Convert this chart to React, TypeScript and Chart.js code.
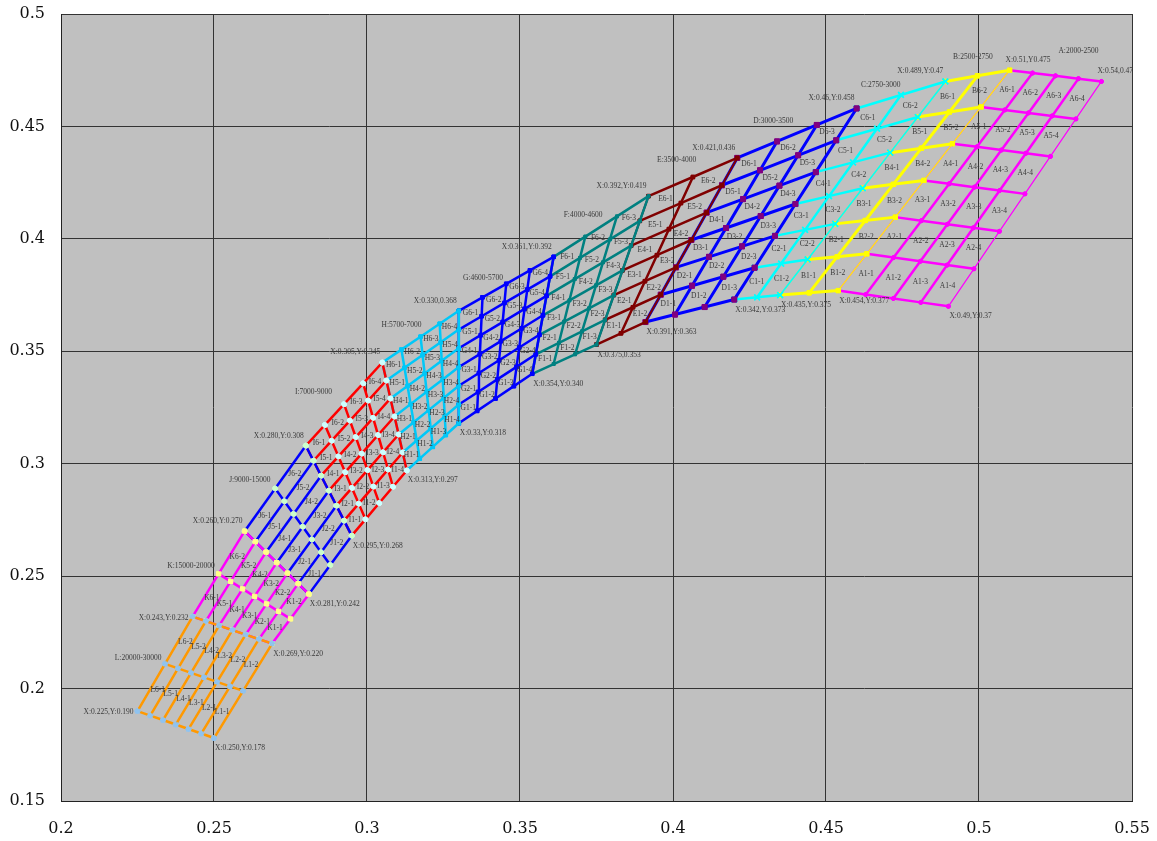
import React, { useEffect, useRef } from "react";
import { Chart, registerables } from "chart.js";

Chart.register(...registerables);

// ---------------- data ----------------
// Bins, ordered from the high-CCT end (L) to the low-CCT end (A)
const BIN_NAMES = ["L", "K", "J", "I", "H", "G", "F", "E", "D", "C", "B", "A"];
const BIN_RANGES = [
  "20000-30000", "15000-20000", "9000-15000", "7000-9000", "5700-7000", "4600-5700",
  "4000-4600", "3500-4000", "3000-3500", "2750-3000", "2500-2750", "2000-2500",
];
// sub-bin divisions along the band (per bin) and across the band (all bins)
const LENGTH_STEPS = [2, 2, 2, 4, 4, 4, 3, 2, 3, 2, 2, 4];
const WIDTH_STEPS = 6;

// Bin boundary corners: upper-left edge of the band and lower-right edge of the band
const UPPER_X = [0.225, 0.243, 0.26, 0.28, 0.305, 0.33, 0.361, 0.392, 0.421, 0.46, 0.489, 0.51, 0.54];
const UPPER_Y = [0.19, 0.232, 0.27, 0.308, 0.345, 0.368, 0.392, 0.419, 0.436, 0.458, 0.47, 0.475, 0.47];
const LOWER_X = [0.25, 0.269, 0.281, 0.295, 0.313, 0.33, 0.354, 0.375, 0.391, 0.42, 0.435, 0.454, 0.49];
const LOWER_Y = [0.178, 0.22, 0.242, 0.268, 0.297, 0.318, 0.34, 0.353, 0.363, 0.373, 0.375, 0.377, 0.37];

// Corner annotation texts (as printed on the chart)
const UPPER_TEXT = [
  "X:0.225,Y:0.190", "X:0.243,Y:0.232", "X:0.260,Y:0.270", "X:0.280,Y:0.308", "X:0.305,Y:0.345",
  "X:0.330,0.368", "X:0.361,Y:0.392", "X:0.392,Y:0.419", "X:0.421,0.436", "X:0.46,Y:0.458",
  "X:0.489,Y:0.47", "X:0.51,Y0.475", "X:0.54,0.47",
];
const LOWER_TEXT = [
  "X:0.250,Y:0.178", "X:0.269,Y:0.220", "X:0.281,Y:0.242", "X:0.295,Y:0.268", "X:0.313,Y:0.297",
  "X:0.33,Y:0.318", "X:0.354,Y:0.340", "X:0.375,0.353", "X:0.391,Y:0.363", "X:0.342,Y:0.373",
  "X:0.435,Y:0.375", "X:0.454,Y:0.377", "X:0.49,Y:0.37",
];

// Bin title anchor positions (data coordinates)
const TITLE_X = [0.2252, 0.2425, 0.2617, 0.2825, 0.3113, 0.3379, 0.3706, 0.4012, 0.4328, 0.4679, 0.498, 0.5325];
const TITLE_Y = [0.2137, 0.2545, 0.2928, 0.3318, 0.3617, 0.3827, 0.4106, 0.4351, 0.4525, 0.4684, 0.4807, 0.4835];

// ---------------- styles ----------------
const LINE_COLORS = ["#FF9900", "#FF00FF", "#0000FF", "#FF0000", "#00C8F8", "#0000FF", "#008080", "#800000", "#0000FF", "#00FFFF", "#FFFF00", "#FF00FF"];
const MARKER_COLORS = ["#8FC3F0", "#FFFF88", "#CCFFCC", "#CCFFFF", "#00C8F8", "#0000FF", "#008080", "#800000", "#800080", "#00FFFF", "#FFFF00", "#FF00FF"];
const MARKER_STYLES = ["star", "rect", "circle", "circle", "rect", "rect", "rect", "rect", "rect", "crossRot", "rect", "circle"];
const MARKER_RADII = [3, 3, 2.5, 2.5, 2.5, 2.5, 2, 2.5, 3.5, 4, 3, 2];
const LINE_WIDTHS = [2.5, 2.5, 2.5, 2.5, 2.5, 2.5, 2.5, 2.5, 3, 2.5, 3, 2.5];
const EDGE_WIDTHS = [2.5, 2.5, 2.5, 2.5, 2.5, 2.5, 2.5, 2, 3, 1.5, 1.2, 1.2];

// sub-bin mesh node of bin k: w across the band (0 = lower edge), m along the band
function node(k: number, w: number, m: number) {
  const t = w / WIDTH_STEPS;
  const s = m / LENGTH_STEPS[k];
  const ax = LOWER_X[k] + (UPPER_X[k] - LOWER_X[k]) * t;
  const ay = LOWER_Y[k] + (UPPER_Y[k] - LOWER_Y[k]) * t;
  const bx = LOWER_X[k + 1] + (UPPER_X[k + 1] - LOWER_X[k + 1]) * t;
  const by = LOWER_Y[k + 1] + (UPPER_Y[k + 1] - LOWER_Y[k + 1]) * t;
  return { x: ax + (bx - ax) * s, y: ay + (by - ay) * s };
}

const LABEL_FONT = '7.5px "Liberation Serif"';
const LABEL_COLOR = "#3a3a3a";

const backgroundPlugin = {
  id: "plotBackground",
  beforeDraw(chart: any) {
    const { ctx, chartArea } = chart;
    ctx.save();
    ctx.fillStyle = "#ffffff";
    ctx.fillRect(0, 0, chart.width, chart.height);
    ctx.fillStyle = "#C0C0C0";
    ctx.fillRect(chartArea.left, chartArea.top, chartArea.right - chartArea.left, chartArea.bottom - chartArea.top);
    ctx.restore();
  },
};

const labelPlugin = {
  id: "binLabels",
  afterDatasetsDraw(chart: any) {
    const { ctx } = chart;
    const xs = chart.scales.x;
    const ys = chart.scales.y;
    const px = (v: number) => xs.getPixelForValue(v);
    const py = (v: number) => ys.getPixelForValue(v);
    ctx.save();
    ctx.font = LABEL_FONT;
    ctx.fillStyle = LABEL_COLOR;
    ctx.textBaseline = "middle";

    // sub-bin names at cell centres
    ctx.textAlign = "center";
    BIN_NAMES.forEach((name, k) => {
      for (let w = 1; w <= WIDTH_STEPS; w++) {
        for (let m = 1; m <= LENGTH_STEPS[k]; m++) {
          const pts = [node(k, w - 1, m - 1), node(k, w, m - 1), node(k, w - 1, m), node(k, w, m)];
          const cx = pts.reduce((a, p) => a + p.x, 0) / 4;
          const cy = pts.reduce((a, p) => a + p.y, 0) / 4;
          ctx.fillText(`${name}${w}-${m}`, px(cx), py(cy));
        }
      }
      // bin titles
      ctx.fillText(`${name}:${BIN_RANGES[k]}`, px(TITLE_X[k]), py(TITLE_Y[k]));
    });

    // corner coordinates
    UPPER_TEXT.forEach((txt, k) => {
      const x = px(UPPER_X[k]);
      const y = py(UPPER_Y[k]);
      if (k <= 1) {
        ctx.textAlign = "right";
        ctx.fillText(txt, x - 4, y + 1);
      } else if (k <= 10) {
        ctx.textAlign = "right";
        ctx.fillText(txt, x - 2, y - 10);
      } else {
        ctx.textAlign = "left";
        ctx.fillText(txt, x - 4, y - 10);
      }
    });
    ctx.textAlign = "left";
    LOWER_TEXT.forEach((txt, k) => {
      ctx.fillText(txt, px(LOWER_X[k]) + 1, py(LOWER_Y[k]) + 10);
    });
    ctx.restore();
  },
};

function buildDatasets() {
  const sets: any[] = [];
  BIN_NAMES.forEach((_, k) => {
    const M = LENGTH_STEPS[k];
    const common = {
      showLine: true,
      fill: false,
      tension: 0,
      borderColor: LINE_COLORS[k],
      pointBackgroundColor: MARKER_COLORS[k],
      pointBorderColor: MARKER_COLORS[k],
      pointStyle: MARKER_STYLES[k],
      pointRadius: MARKER_RADII[k],
      pointBorderWidth: MARKER_STYLES[k] === "crossRot" || MARKER_STYLES[k] === "star" ? 1.5 : 1,
      pointHoverRadius: MARKER_RADII[k],
    };
    // lines along the band
    for (let w = 0; w <= WIDTH_STEPS; w++) {
      const data = [];
      for (let m = 0; m <= M; m++) data.push(node(k, w, m));
      sets.push({ ...common, data, borderWidth: LINE_WIDTHS[k] });
    }
    // lines across the band
    for (let m = 0; m <= M; m++) {
      const data = [];
      for (let w = 0; w <= WIDTH_STEPS; w++) data.push(node(k, w, m));
      sets.push({ ...common, data, borderWidth: m === 0 || m === M ? EDGE_WIDTHS[k] : LINE_WIDTHS[k] });
    }
  });
  return sets;
}

const tickFormat = (v: any) => String(+Number(v).toFixed(2));
const NO_COLOR = "rgba(0,0,0,0)";

export default function App() {
  const ref = useRef<HTMLCanvasElement>(null);

  useEffect(() => {
    const canvas = ref.current;
    if (!canvas) return;
    const chart = new Chart(canvas, {
      type: "scatter",
      data: { datasets: buildDatasets() },
      options: {
        animation: false,
        responsive: false,
        maintainAspectRatio: false,
        layout: { padding: { left: 0, top: 14, right: 25, bottom: 0 } },
        plugins: { legend: { display: false }, tooltip: { enabled: false } },
        scales: {
          x: {
            type: "linear",
            min: 0.2,
            max: 0.55,
            ticks: {
              stepSize: 0.05,
              padding: 0,
              color: "#111",
              font: { family: "DejaVu Serif", size: 16 },
              callback: tickFormat,
            },
            grid: { color: "#333", lineWidth: 1, drawTicks: true, tickLength: 18, tickColor: NO_COLOR },
            border: { color: "#222", width: 1 },
            afterFit: (s: any) => {
              s.height = 40;
            },
          },
          y: {
            type: "linear",
            min: 0.15,
            max: 0.5,
            ticks: {
              stepSize: 0.05,
              padding: 0,
              color: "#111",
              font: { family: "DejaVu Serif", size: 16 },
              callback: tickFormat,
            },
            grid: { color: "#333", lineWidth: 1, drawTicks: true, tickLength: 16, tickColor: NO_COLOR },
            border: { color: "#222", width: 1 },
            afterFit: (s: any) => {
              s.width = 61;
            },
          },
        },
      } as any,
      plugins: [backgroundPlugin, labelPlugin],
    });
    return () => chart.destroy();
  }, []);

  return (
    <div style={{ position: "fixed", left: 0, top: 0, width: 1157, height: 841, background: "#fff" }}>
      <canvas ref={ref} width={1157} height={841} style={{ display: "block", width: 1157, height: 841 }} />
    </div>
  );
}
